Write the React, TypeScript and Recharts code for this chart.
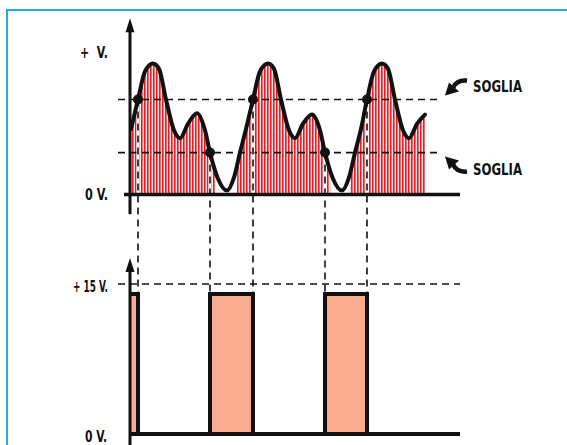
import {
  ComposedChart,
  Area,
  Line,
  Scatter,
  XAxis,
  YAxis,
  ReferenceLine,
  ReferenceDot,
} from 'recharts';

// input signal (top panel), time in px-like units, volts in arbitrary units
const waveT = [1, 8, 15, 23, 29, 36, 44, 50, 58, 67, 75, 80, 88, 97, 104, 110, 116, 123, 130, 138, 144, 151, 159, 165, 173, 182, 190, 195, 203, 212, 219, 225, 231, 237, 244, 252, 258, 265, 273, 279, 287, 295];
const waveV = [5.0, 7.25, 9.4, 10.0, 9.6, 7.25, 4.9, 4.3, 5.4, 6.2, 4.9, 3.2, 1.2, 0.3, 1.3, 3.2, 5.0, 7.25, 9.4, 10.0, 9.6, 7.25, 4.9, 4.3, 5.4, 6.1, 4.9, 3.2, 1.2, 0.3, 1.3, 3.2, 5.0, 7.25, 9.4, 10.0, 9.6, 7.25, 4.9, 4.3, 5.4, 6.1];

// hatched fill under the signal (printed a bit loose, empty at the valleys)
const hatchT = [0, 8, 15, 23, 29, 36, 44, 50, 58, 67, 75, 80, 85, 85.5, 107, 107.5, 110, 116, 123, 130, 138, 144, 151, 159, 165, 173, 182, 190, 195, 200, 200.5, 220, 220.5, 225, 231, 237, 244, 252, 258, 265, 273, 279, 287, 295];
const hatchV = [4.8, 7.25, 9.4, 10.0, 9.6, 7.25, 4.9, 4.3, 5.4, 6.2, 4.9, 3.2, 1.9, 0, 0, 2.4, 3.2, 5.0, 7.25, 9.4, 10.0, 9.6, 7.25, 4.9, 4.3, 5.4, 6.1, 4.9, 3.2, 1.9, 0, 0, 1.6, 3.2, 5.0, 7.25, 9.4, 10.0, 9.6, 7.25, 4.9, 4.3, 5.4, 6.1];

// threshold crossings
const crossT = [8, 80, 123, 195, 237];
const crossV = [7.25, 3.2, 7.25, 3.2, 7.25];
const thresholds = [7.25, 3.2];

// comparator output (bottom panel)
const pulseT = [0, 8, 8, 80, 80, 123, 123, 195, 195, 237, 237, 330];
const pulseLevel = [14, 14, 0, 0, 14, 14, 0, 0, 14, 14, 0, 0];
const supplyV = 15;
const outHigh = 14;

const topTicks = [0, 10.85];
const topTickLabels = ['0 V.', '+  V.'];

const wave = waveT.map((t, i) => ({ t, v: waveV[i] }));
const hatch = hatchT.map((t, i) => ({ t, v: hatchV[i] }));
const dots = crossT.map((t, i) => ({ t, v: crossV[i] }));
const pulses = pulseT.map((t, i) => ({ t, level: pulseLevel[i] }));

const W = 567;
const H = 445;
const TOP_ZERO = 194.5;
const TOP_PX = 13.1;
const BOT_ZERO = 434;
const BOT_PX = 10;
const topDomain = [-(H - TOP_ZERO) / TOP_PX, TOP_ZERO / TOP_PX];
const botDomain = [-(H - BOT_ZERO) / BOT_PX, BOT_ZERO / BOT_PX];
const toTop = (level: number) => (TOP_ZERO - (BOT_ZERO - level * BOT_PX)) / TOP_PX;

const FONT = "'Liberation Sans Narrow', 'DejaVu Sans Condensed', 'Arial Narrow', sans-serif";
const INK = '#111';
const DASH = '7 5';

// the print uses a condensed bold face, squeeze the text to its width
function CondText({ x, y, text, width, anchor = 'end' }: { x: number; y: number; text: string; width: number; anchor?: string }) {
  return (
    <text
      x={x}
      y={y}
      textAnchor={anchor}
      dominantBaseline="central"
      fontSize={16.5}
      fontWeight={700}
      fill={INK}
      textLength={width}
      lengthAdjust="spacingAndGlyphs"
      style={{ whiteSpace: 'pre' }}
    >
      {text}
    </text>
  );
}

// eslint-disable-next-line @typescript-eslint/no-explicit-any
function TopTick({ x, y, payload }: any) {
  const label = topTickLabels[topTicks.indexOf(payload.value)];
  return <CondText x={x} y={y} text={label} width={label.startsWith('+') ? 28 : 23} />;
}

// eslint-disable-next-line @typescript-eslint/no-explicit-any
function LeftLabel({ viewBox, text, width, offset, dy = 0 }: any) {
  return <CondText x={viewBox.x - offset} y={viewBox.y + viewBox.height / 2 + dy} text={text} width={width} />;
}

// eslint-disable-next-line @typescript-eslint/no-explicit-any
function ArrowHead({ cx, cy }: any) {
  return <path d={`M${cx},${cy} L${cx - 4.5},${cy + 14} L${cx + 4.5},${cy + 14} Z`} fill={INK} />;
}

// eslint-disable-next-line @typescript-eslint/no-explicit-any
function SogliaLabel({ viewBox, up }: any) {
  const ex = viewBox.x + viewBox.width;
  const ly = viewBox.y;
  const s = up ? -1 : 1;
  return (
    <g>
      <path d={`M${ex + 3},${ly + 4 * s} L${ex + 7},${ly + 17 * s} L${ex + 17},${ly + 8 * s} Z`} fill={INK} />
      <path
        d={`M${ex + 11},${ly + 12 * s} Q${ex + 15},${ly + 20 * s} ${ex + 25},${ly + 19 * s}`}
        stroke={INK}
        strokeWidth={4.5}
        fill="none"
      />
      <CondText x={ex + 31} y={up ? ly - 13 : ly + 17} text="SOGLIA" width={49} anchor="start" />
    </g>
  );
}

export default function App() {
  return (
    <div
      style={{
        position: 'absolute',
        left: 0,
        top: 0,
        width: W,
        height: H,
        overflow: 'hidden',
        background: '#fff',
        fontFamily: FONT,
        fontWeight: 700,
      }}
    >
      <div
        style={{
          position: 'absolute',
          left: 6,
          top: 9,
          width: 700,
          height: 600,
          border: '2px solid #2aa9e0',
        }}
      />
      <div style={{ position: 'absolute', left: 0, top: 0 }}>
        <ComposedChart width={W} height={H} margin={{ top: 0, right: 107, bottom: 0, left: 0 }}>
          <defs>
            <pattern id="hatch" width={3} height={10} patternUnits="userSpaceOnUse">
              <rect width={3} height={10} fill="#fde3e3" />
              <rect width={1.6} height={10} fill="#ec1c24" />
            </pattern>
          </defs>
          <XAxis dataKey="t" type="number" domain={[-12, 330]} allowDataOverflow hide />
          <YAxis
            yAxisId="top"
            dataKey="v"
            type="number"
            domain={topDomain}
            allowDataOverflow
            ticks={topTicks}
            interval={0}
            width={118}
            axisLine={false}
            tickLine={false}
            tickSize={0}
            tickMargin={10}
            tick={<TopTick />}
          />
          <YAxis yAxisId="bot" dataKey="level" type="number" domain={botDomain} allowDataOverflow hide width={0} />

          {/* hatched area under the input */}
          <Area
            yAxisId="top"
            data={hatch}
            dataKey="v"
            type="monotone"
            stroke="none"
            fill="url(#hatch)"
            fillOpacity={1}
            isAnimationActive={false}
          />

          {/* thresholds */}
          {thresholds.map((th, i) => (
            <ReferenceLine
              key={`th${i}`}
              yAxisId="top"
              segment={[{ x: -12, y: th }, { x: 312, y: th }]}
              stroke={INK}
              strokeWidth={1.6}
              strokeDasharray={DASH}
              ifOverflow="visible"
              // eslint-disable-next-line @typescript-eslint/no-explicit-any
              label={(p: any) => <SogliaLabel viewBox={p.viewBox} up={i === 0} />}
            />
          ))}

          {/* + 15 V. level */}
          <ReferenceLine
            yAxisId="bot"
            segment={[{ x: -12, y: supplyV }, { x: 330, y: supplyV }]}
            stroke={INK}
            strokeWidth={1.6}
            strokeDasharray={DASH}
            ifOverflow="visible"
            // eslint-disable-next-line @typescript-eslint/no-explicit-any
            label={(p: any) => <LeftLabel viewBox={p.viewBox} text="+ 15 V." width={35} offset={10} dy={2} />}
          />

          {/* drop lines from crossings to the output */}
          {crossT.map((t, i) => (
            <ReferenceLine
              key={`w${i}`}
              yAxisId="top"
              segment={[{ x: t, y: crossV[i] }, { x: t, y: 0 }]}
              stroke="#fff"
              strokeWidth={3}
              ifOverflow="visible"
            />
          ))}
          {crossT.map((t, i) => (
            <ReferenceLine
              key={`d${i}`}
              yAxisId="top"
              segment={[{ x: t, y: crossV[i] }, { x: t, y: toTop(outHigh) }]}
              stroke={INK}
              strokeWidth={1.6}
              strokeDasharray={DASH}
              ifOverflow="visible"
            />
          ))}

          {/* output pulses */}
          <Area
            yAxisId="bot"
            data={pulses}
            dataKey="level"
            type="linear"
            stroke={INK}
            strokeWidth={4}
            fill="#f8ab8f"
            fillOpacity={1}
            isAnimationActive={false}
          />

          {/* input signal */}
          <Line
            yAxisId="top"
            data={wave}
            dataKey="v"
            type="monotone"
            stroke={INK}
            strokeWidth={4}
            dot={false}
            strokeLinecap="round"
            isAnimationActive={false}
          />
          <Scatter
            yAxisId="top"
            data={dots}
            dataKey="v"
            fill={INK}
            // eslint-disable-next-line @typescript-eslint/no-explicit-any
            shape={(p: any) => <circle cx={p.cx} cy={p.cy} r={5} fill={INK} />}
            isAnimationActive={false}
          />

          {/* axes */}
          <ReferenceLine
            yAxisId="top"
            segment={[{ x: -6, y: 0 }, { x: 330, y: 0 }]}
            stroke={INK}
            strokeWidth={3.5}
            ifOverflow="visible"
          />
          <ReferenceLine
            yAxisId="top"
            segment={[{ x: 0, y: -1.5 }, { x: 0, y: 12.8 }]}
            stroke={INK}
            strokeWidth={3}
            ifOverflow="visible"
          />
          <ReferenceDot yAxisId="top" x={0} y={13.45} r={0} shape={ArrowHead} ifOverflow="visible" />
          <ReferenceLine
            yAxisId="bot"
            segment={[{ x: 0, y: 0 }, { x: 330, y: 0 }]}
            stroke={INK}
            strokeWidth={4}
            ifOverflow="visible"
            // eslint-disable-next-line @typescript-eslint/no-explicit-any
            label={(p: any) => <LeftLabel viewBox={p.viewBox} text="0 V." width={22} offset={23} dy={2} />}
          />
          <ReferenceLine
            yAxisId="bot"
            segment={[{ x: 0, y: -1.2 }, { x: 0, y: 17 }]}
            stroke={INK}
            strokeWidth={3}
            ifOverflow="visible"
          />
          <ReferenceDot yAxisId="bot" x={0} y={17.6} r={0} shape={ArrowHead} ifOverflow="visible" />
        </ComposedChart>
      </div>
    </div>
  );
}
